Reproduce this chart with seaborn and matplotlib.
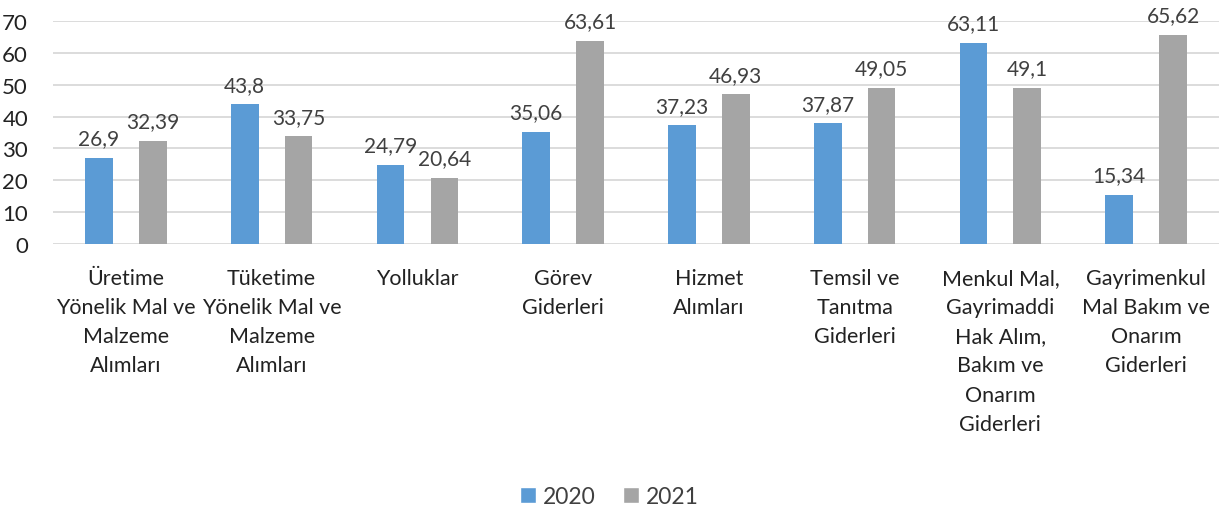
import pandas as pd
import seaborn as sns
import matplotlib.pyplot as plt
from matplotlib.patches import Patch

categories = [
    "Üretime\nYönelik Mal ve\nMalzeme\nAlımları",
    "Tüketime\nYönelik Mal ve\nMalzeme\nAlımları",
    "Yolluklar",
    "Görev\nGiderleri",
    "Hizmet\nAlımları",
    "Temsil ve\nTanıtma\nGiderleri",
    "Menkul Mal,\nGayrimaddi\nHak Alım,\nBakım ve\nOnarım\nGiderleri",
    "Gayrimenkul\nMal Bakım ve\nOnarım\nGiderleri",
]
values_2020 = [26.9, 43.8, 24.79, 35.06, 37.23, 37.87, 63.11, 15.34]
values_2021 = [32.39, 33.75, 20.64, 63.61, 46.93, 49.05, 49.1, 65.62]
years = ["2020", "2021"]
colors = ["#5B9BD5", "#A5A5A5"]

df = pd.DataFrame({
    "kategori": categories * 2,
    "yil": [years[0]] * len(categories) + [years[1]] * len(categories),
    "deger": values_2020 + values_2021,
})

sns.set_style("white")
plt.rcParams["font.family"] = ["Lato", "DejaVu Sans"]
txt = "#404040"
dark = "#222222"

fig = plt.figure(figsize=(12.19, 5.10), dpi=100)
ax = fig.add_axes([0.0435, 0.5196, 0.9565, 0.4374])

sns.barplot(data=df, x="kategori", y="deger", hue="yil", palette=colors,
            width=0.74, ax=ax, legend=False, saturation=1)

# shrink bars, keep centres (Excel-style gap between series)
bw = 0.19
for p in ax.patches:
    c = p.get_x() + p.get_width() / 2
    p.set_width(bw)
    p.set_x(c - bw / 2)
    p.set_edgecolor("none")

for cont in ax.containers:
    labels = [f"{v:g}".replace(".", ",") for v in cont.datavalues]
    ax.bar_label(cont, labels=labels, padding=7, fontsize=15, color=txt,
                 clip_on=False)

ax.set_ylim(0, 70)
ax.set_xlim(-0.5, len(categories) - 0.5)
ax.set_yticks(range(0, 71, 10))
ax.yaxis.grid(True, color="#d9d9d9", linewidth=1.3)
ax.set_axisbelow(True)
for s in ax.spines.values():
    s.set_visible(False)
ax.set_xlabel("")
ax.set_ylabel("")
ax.tick_params(axis="y", labelsize=16, labelcolor=dark, length=0, pad=18)
ax.tick_params(axis="x", labelsize=15.5, labelcolor=dark, length=0, pad=17)
for t in ax.get_xticklabels():
    t.set_linespacing(1.58)
    t.set_verticalalignment("top")

handles = [Patch(facecolor=c, label=y) for c, y in zip(colors, years)]
fig.legend(handles=handles, loc="center", bbox_to_anchor=(0.5, 0.025),
           ncol=2, frameon=False, fontsize=16.5, labelcolor=txt,
           handlelength=0.7, handleheight=0.7, handletextpad=0.3,
           columnspacing=1.2)

fig.savefig("out.png", dpi=100)
